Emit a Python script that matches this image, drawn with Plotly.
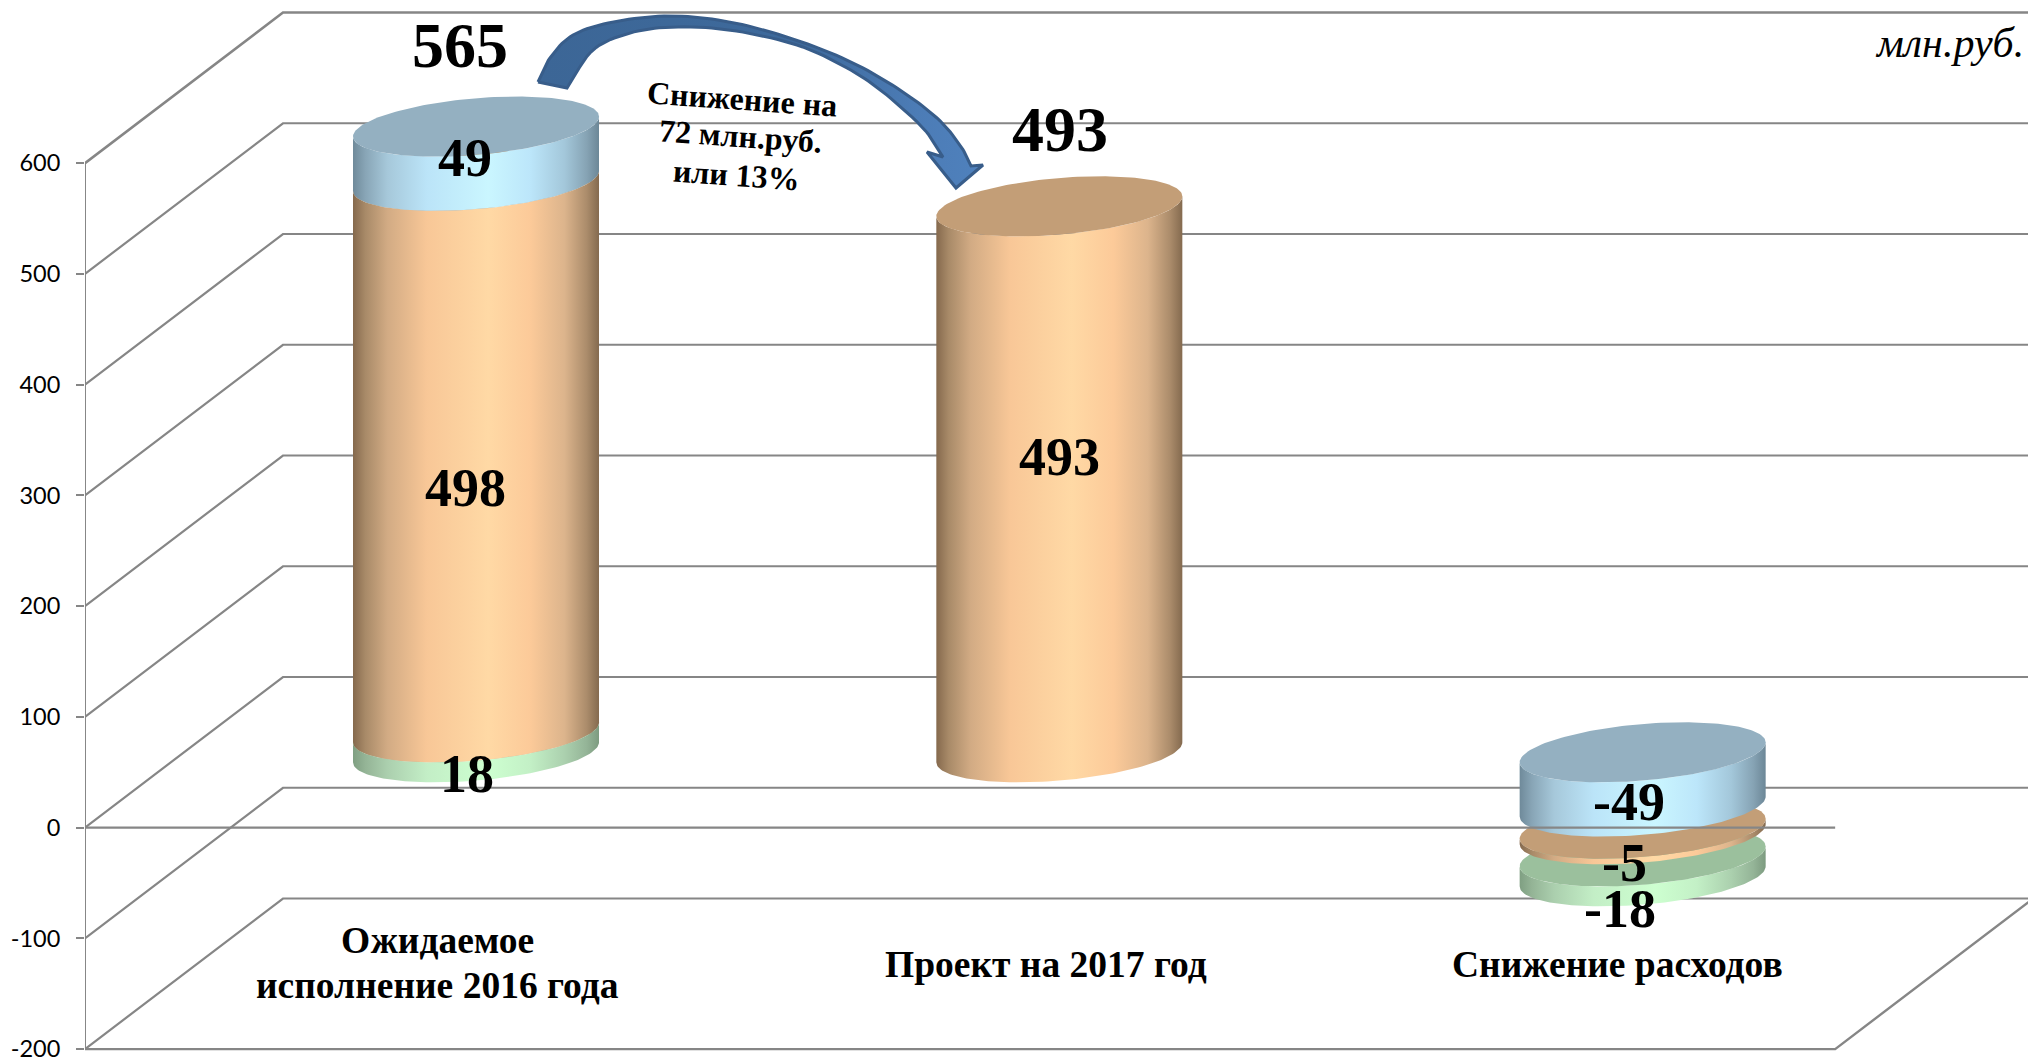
import numpy as np
import plotly.graph_objects as go

# ---- data ----
categories = [["Ожидаемое", "исполнение 2016 года"], ["Проект на 2017 год"], ["Снижение расходов"]]
series_names = ["green", "tan", "blue"]
green_values = [18, 0, -18]
tan_values = [498, 493, -5]
blue_values = [49, 0, -49]
totals = [565, 493]
y_ticks = [-200, -100, 0, 100, 200, 300, 400, 500, 600]

# ---- geometry of the pseudo-3D box ----
W, H = 2028, 1058
PX_PER_UNIT = 1.1075
ZERO_PX = 827.6
CAT_PX = 583.33
CAT0_PX = 476.0
LEFT_PX = 85.0
DEPTH_X = 198.0 / CAT_PX
DEPTH_Y = 150.6 / PX_PER_UNIT
FRONT_L, FRONT_R = -0.6703, 2.33
RAD_X = 123.0 / CAT_PX
RAD_Y = 28.3 / PX_PER_UNIT
TILT = 10.0 / PX_PER_UNIT
NEG_GAP = 20


def xd(px):
    return (px - CAT0_PX) / CAT_PX


def yd(py):
    return (ZERO_PX - py) / PX_PER_UNIT


GRID = "#868686"
SIDES = {
    "tan": [[0, "#85694d"], [0.05, "#a88a68"], [0.14, "#d2ab84"], [0.3, "#f8c797"], [0.55, "#ffd9a5"],
            [0.72, "#fcca99"], [0.86, "#dcb48c"], [0.95, "#ab8c6b"], [1, "#846a4f"]],
    "blue": [[0, "#6f8a9a"], [0.05, "#88a5b6"], [0.14, "#a6c8da"], [0.3, "#bbe4f8"], [0.55, "#caf6ff"],
             [0.72, "#bce6fa"], [0.86, "#a3c7da"], [0.95, "#86a3b4"], [1, "#6c8797"]],
    "green": [[0, "#7f9f82"], [0.05, "#94b496"], [0.14, "#abcfae"], [0.3, "#c3eec6"], [0.55, "#cdffd0"],
              [0.72, "#c3f0c6"], [0.86, "#abd0ae"], [0.95, "#94b497"], [1, "#7d9b80"]],
}
TOPS = {"tan": "#c39e77", "blue": "#94b0c1", "green": "#9bc09d"}

fig = go.Figure()


def line(xs, ys, width=2.0):
    fig.add_trace(go.Scatter(x=xs, y=ys, mode="lines", line=dict(color=GRID, width=width),
                             hoverinfo="skip", showlegend=False))


# walls and floor
for t in y_ticks:
    line([FRONT_L, FRONT_L + DEPTH_X, FRONT_R + DEPTH_X + 0.3],
         [t, t + DEPTH_Y, t + DEPTH_Y], width=2.2 if t != 600 else 2.6)
line([FRONT_L, FRONT_L], [-200, 600])
line([FRONT_L, FRONT_R, FRONT_R + DEPTH_X], [-200, -200, -200 + DEPTH_Y], width=2.4)


# cylinders
def ellipse(cat, v, t):
    return cat + RAD_X * np.cos(t), v + DEPTH_Y / 2 + RAD_Y * np.sin(t) + TILT * np.cos(t)


def segment(cat, lo, hi, name, top=True):
    t_front = np.linspace(np.pi, 2 * np.pi, 80)
    x0, y0 = ellipse(cat, lo, t_front)
    x1, y1 = ellipse(cat, hi, t_front[::-1])
    fig.add_trace(go.Scatter(x=np.r_[x0, x1], y=np.r_[y0, y1], mode="lines", fill="toself",
                             line=dict(width=0), fillgradient=dict(type="horizontal", colorscale=SIDES[name]),
                             hoverinfo="skip", showlegend=False))
    if top:
        t_all = np.linspace(0, 2 * np.pi, 160)
        xe, ye = ellipse(cat, hi, t_all)
        fig.add_trace(go.Scatter(x=xe, y=ye, mode="lines", fill="toself", fillcolor=TOPS[name],
                                 line=dict(width=0), hoverinfo="skip", showlegend=False))


for cat in range(3):
    vals = [("green", green_values[cat]), ("tan", tan_values[cat]), ("blue", blue_values[cat])]
    vals = [(n, v) for n, v in vals if v != 0]
    if vals[0][1] > 0:
        base = 0
        for i, (n, v) in enumerate(vals):
            segment(cat, base, base + v, n)
            base += v
    else:
        # negative stack: blue hangs from zero, the others below with a gap
        stack = []
        base = 0
        for n, v in reversed(vals):
            stack.append((n, base + v, base))
            base += v - NEG_GAP
        for n, lo, hi in reversed(stack):
            segment(cat, lo, hi, n)

# zero line in front of the cylinders
line([FRONT_L, FRONT_R], [0, 0], width=2.2)

# curved arrow (decoration)
outer = np.array([(538, 82), (550, 58), (573, 35), (613, 22), (670, 16), (730, 22), (790, 38), (847, 60),
                  (897, 88), (937, 118), (960, 145), (971, 166)], float)
inner = np.array([(943, 157), (923, 128), (883, 92), (847, 68), (797, 45), (730, 30), (673, 27), (630, 33),
                  (593, 50), (567, 88)], float)
head = np.array([(983, 165), (956, 188), (927, 152)], float)


def smooth(p, n=10):
    q = np.vstack([2 * p[0] - p[1], p, 2 * p[-1] - p[-2]])
    out = []
    for i in range(1, len(q) - 2):
        for s in np.linspace(0, 1, n, endpoint=False):
            a, b, c, d = q[i - 1], q[i], q[i + 1], q[i + 2]
            out.append(0.5 * (2 * b + (c - a) * s + (2 * a - 5 * b + 4 * c - d) * s ** 2 + (3 * b - a - 3 * c + d) * s ** 3))
    out.append(p[-1])
    return np.array(out)


arrow = np.vstack([smooth(outer), head, smooth(inner), outer[:1]])
fig.add_trace(go.Scatter(x=xd(arrow[:, 0]), y=yd(arrow[:, 1]), mode="lines", fill="toself",
                         line=dict(color="#385d8a", width=3),
                         fillgradient=dict(type="horizontal",
                                           colorscale=[[0, "#3c6696"], [0.6, "#3e6a9c"], [0.85, "#4c7cb6"], [1, "#4f81bd"]]),
                         hoverinfo="skip", showlegend=False))


# texts
def label(text, px, py, size, italic=False, bold=True, angle=0):
    fig.add_annotation(x=xd(px), y=yd(py), xref="x", yref="y", text=text, showarrow=False,
                       xanchor="center", yanchor="middle", textangle=angle,
                       font=dict(family="Liberation Serif", size=size, color="#000000",
                                 weight="bold" if bold else "normal",
                                 style="italic" if italic else "normal"))


label(str(totals[0]), 459.5, 45, 64)
label(str(totals[1]), 1060, 129, 64)
label(str(tan_values[0]), 465, 488, 54)
label(str(tan_values[1]), 1059, 457, 54)
label(str(blue_values[0]), 465, 158, 54)
label(str(green_values[0]), 467, 774, 54)
label(str(blue_values[2]), 1629, 802, 54)
label(str(tan_values[2]), 1624, 863, 54)
label(str(green_values[2]), 1620, 909, 54)
label(categories[0][0], 437, 940, 37.5)
label(categories[0][1], 437, 985, 37.5)
label(categories[1][0], 1046, 964, 37.5)
label(categories[2][0], 1617, 964, 37.5)
label("Снижение на", 742, 99, 32, angle=4)
label("72 млн.руб.", 740, 136, 32, angle=4)
label("или 13%", 736, 175, 32, angle=4)
label("млн.руб.", 1949, 43, 42, italic=True, bold=False)

fig.update_layout(
    width=W, height=H, margin=dict(l=int(LEFT_PX), r=0, t=0, b=0, autoexpand=False),
    paper_bgcolor="white", plot_bgcolor="white", showlegend=False,
    xaxis=dict(range=[xd(LEFT_PX), xd(W)], visible=False, fixedrange=True),
    yaxis=dict(range=[yd(H), yd(0)], tickvals=y_ticks, ticktext=[str(v) for v in y_ticks],
               showgrid=False, zeroline=False, showline=False, ticks="outside", ticklen=8,
               tickwidth=2, tickcolor=GRID, ticklabelstandoff=11, ticklabeloverflow="allow",
               tickfont=dict(family="Lato", size=23.5, color="#000000"), fixedrange=True),
)
fig.write_html("out.html", config=dict(displayModeBar=False), post_script="document.body.style.margin='0';")
